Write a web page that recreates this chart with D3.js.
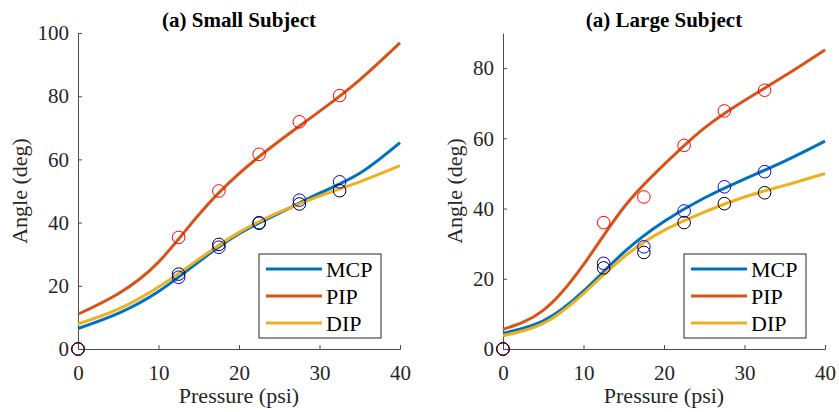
<!DOCTYPE html>
<html lang="en">
<head>
	<meta charset="utf-8">
	<title>Joint angle vs pressure</title>
	<script src="https://d3js.org/d3.v7.min.js"></script>
	<style>
		body {
			margin: 0;
			background: #fff;
		}
		svg text {
			font-family: "Times New Roman", "Liberation Serif", "DejaVu Serif", serif;
		}
		.axis path, .axis line {
			stroke: #4d4d4d;
		}
		.axis text {
			font-size: 21px;
			fill: #262626;
		}
	</style>
</head>
<body>
	<script>
		// joint angle curves for two subjects, MATLAB style figure

		var jointNames = ["MCP", "PIP", "DIP"];
		var lineColors = ["#0072BD", "#D95319", "#EDB120"];
		var markerColors = ["#0000FF", "#FF0000", "#000000"];

		var curvePressure = [0, 5, 10, 15, 20, 25, 30, 35, 40];
		var smallMCP = [6.5, 11.3, 18.2, 27.6, 36.5, 43.0, 49.3, 55.6, 65.3];
		var smallPIP = [11.0, 17.5, 27.5, 42.5, 55.5, 65.8, 75.2, 85.2, 96.9];
		var smallDIP = [7.9, 12.6, 19.6, 28.4, 36.9, 43.3, 48.4, 52.9, 58.0];
		var largeMCP = [4.5, 8.0, 16.5, 27.5, 36.3, 43.0, 48.4, 53.5, 59.2];
		var largePIP = [5.6, 11.0, 24.0, 40.3, 52.5, 62.9, 70.8, 77.8, 85.2];
		var largeDIP = [3.8, 7.3, 15.8, 26.2, 33.8, 39.0, 43.3, 46.6, 50.0];

		// measured points
		var measPressure = [0, 12.5, 17.5, 22.5, 27.5, 32.5];
		var smallMCPpts = [0, 22.7, 32.2, 40.0, 47.1, 52.9];
		var smallPIPpts = [0, 35.3, 50.0, 61.6, 71.9, 80.2];
		var smallDIPpts = [0, 23.7, 33.1, 39.8, 45.9, 50.1];
		var largeMCPpts = [0, 24.4, 29.1, 39.3, 46.2, 50.5];
		var largePIPpts = [0, 36.0, 43.3, 58.0, 67.8, 73.7];
		var largeDIPpts = [0, 23.1, 27.5, 36.0, 41.4, 44.5];

		var xTicks = [0, 10, 20, 30, 40];
		var smallYTicks = [0, 20, 40, 60, 80, 100];
		var largeYTicks = [0, 20, 40, 60, 80];

		var w = 839;
		var h = 412;

		var svg = d3.select("body")
			.append("svg")
			.attr("width", w)
			.attr("height", h);

		var panels = [
			{
				title: "(a) Small Subject",
				left: 78, right: 400, top: 33, bottom: 349,
				yMax: 100, yTicks: smallYTicks,
				curves: [smallMCP, smallPIP, smallDIP],
				points: [smallMCPpts, smallPIPpts, smallDIPpts],
				legendX: 259, labelX: 19
			},
			{
				title: "(a) Large Subject",
				left: 503, right: 825, top: 33, bottom: 349,
				yMax: 90, yTicks: largeYTicks,
				curves: [largeMCP, largePIP, largeDIP],
				points: [largeMCPpts, largePIPpts, largeDIPpts],
				legendX: 684, labelX: 454
			}
		];

		panels.forEach(function (p) {
			var xScale = d3.scaleLinear().domain([0, 40]).range([p.left, p.right]);
			var yScale = d3.scaleLinear().domain([0, p.yMax]).range([p.bottom, p.top]);

			var g = svg.append("g");

			// axes with inward ticks
			g.append("g")
				.attr("class", "axis")
				.attr("transform", "translate(0," + p.bottom + ")")
				.call(d3.axisBottom(xScale).tickValues(xTicks).tickSizeInner(-4).tickSizeOuter(-4).tickPadding(16));

			g.append("g")
				.attr("class", "axis")
				.attr("transform", "translate(" + p.left + ",0)")
				.call(d3.axisLeft(yScale).tickValues(p.yTicks).tickSizeInner(-4).tickSizeOuter(0).tickPadding(9));

			// fitted curves
			p.curves.forEach(function (vals, i) {
				var line = d3.line()
					.x(function (d, j) { return xScale(curvePressure[j]); })
					.y(function (d) { return yScale(d); })
					.curve(d3.curveNatural);
				g.append("path")
					.datum(vals)
					.attr("d", line)
					.attr("fill", "none")
					.attr("stroke", lineColors[i])
					.attr("stroke-width", 3);
			});

			// measured markers
			p.points.forEach(function (vals, i) {
				g.selectAll(null)
					.data(vals)
					.enter()
					.append("circle")
					.attr("cx", function (d, j) { return xScale(measPressure[j]); })
					.attr("cy", function (d) { return yScale(d); })
					.attr("r", 6.3)
					.attr("fill", "none")
					.attr("stroke", markerColors[i])
					.attr("stroke-width", 1);
			});

			// title and labels
			g.append("text")
				.attr("x", (p.left + p.right) / 2)
				.attr("y", 27)
				.attr("text-anchor", "middle")
				.style("font-weight", "bold")
				.style("font-size", "21px")
				.style("fill", "#000")
				.text(p.title);

			g.append("text")
				.attr("x", (p.left + p.right) / 2)
				.attr("y", 403)
				.attr("text-anchor", "middle")
				.style("font-size", "22px")
				.style("fill", "#262626")
				.text("Pressure (psi)");

			g.append("text")
				.attr("text-anchor", "middle")
				.attr("transform", "translate(" + p.labelX + "," + ((p.top + p.bottom) / 2) + ")rotate(-90)")
				.attr("dy", "0.35em")
				.style("font-size", "22px")
				.style("fill", "#262626")
				.text("Angle (deg)");

			// legend
			var leg = g.append("g").attr("transform", "translate(" + p.legendX + ",254)");
			leg.append("rect")
				.attr("width", 122)
				.attr("height", 84)
				.attr("fill", "#fff")
				.attr("stroke", "#262626")
				.attr("stroke-width", 1);
			jointNames.forEach(function (name, i) {
				var yy = 15 + i * 27;
				leg.append("line")
					.attr("x1", 7).attr("x2", 63)
					.attr("y1", yy).attr("y2", yy)
					.attr("stroke", lineColors[i])
					.attr("stroke-width", 3);
				leg.append("text")
					.attr("x", 67)
					.attr("y", yy)
					.attr("dy", "0.35em")
					.style("font-size", "22px")
					.style("fill", "#000")
					.text(name);
			});
		});
	</script>
</body>
</html>
